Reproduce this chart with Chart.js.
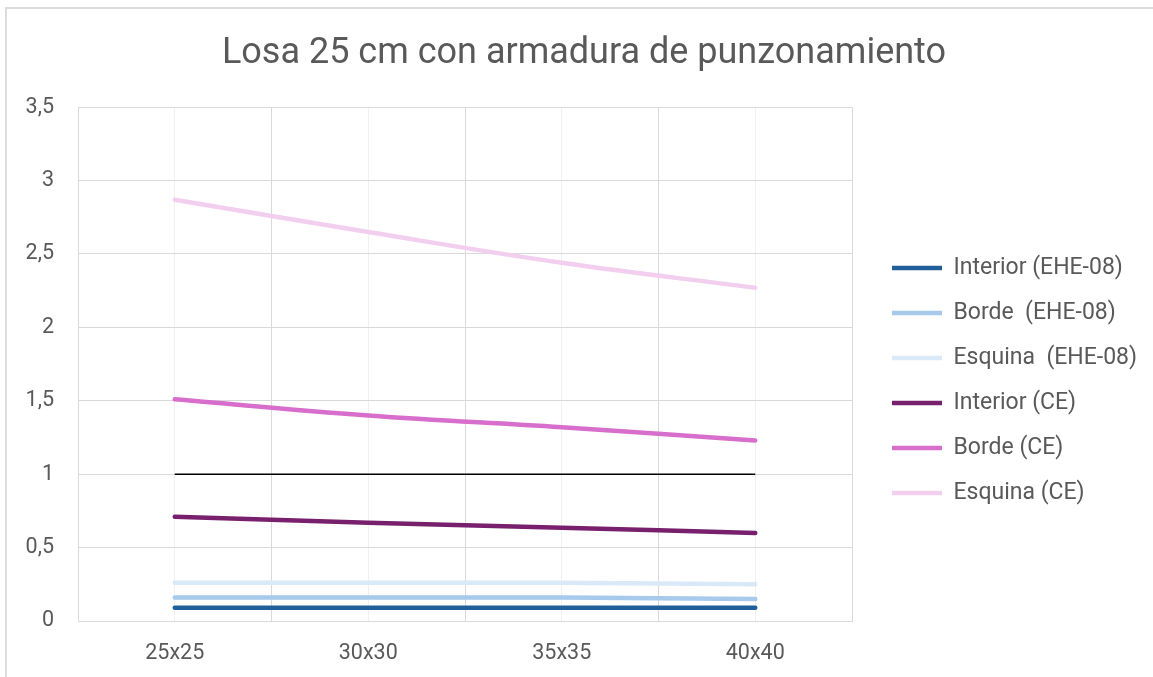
<!DOCTYPE html>
<html>
<head>
<meta charset="utf-8">
<script src="https://cdn.jsdelivr.net/npm/chart.js@4.4.1/dist/chart.umd.min.js"></script>
<style>
  body { margin: 0; background: #fff; }
  #marco { position: relative; width: 1153px; height: 677px; }
  #borde { position: absolute; left: 5px; top: 7px; right: 0; bottom: 0;
           border-left: 2px solid #dcdcdc; border-top: 2px solid #dcdcdc; pointer-events: none; }
</style>
</head>
<body>
<div id="marco">
  <canvas id="grafico" width="1153" height="677"></canvas>
  <div id="borde"></div>
</div>
<script>
// datos
const categorias = ["25x25", "30x30", "35x35", "40x40"];
const interiorEHE = [0.09, 0.09, 0.09, 0.09];
const bordeEHE = [0.16, 0.16, 0.16, 0.15];
const esquinaEHE = [0.26, 0.26, 0.26, 0.25];
const interiorCE = [0.71, 0.67, 0.635, 0.60];
const bordeCE = [1.51, 1.40, 1.32, 1.23];
const esquinaCE = [2.87, 2.65, 2.44, 2.27];
const limite = [1, 1, 1, 1];
const ticksY = [0, 0.5, 1, 1.5, 2, 2.5, 3, 3.5];

const gris = "#595959";
const rejilla = "#d9d9d9";
const fuente = "Roboto";
const tamLeyenda = 23;
const huecoLeyenda = 18;
const centroTitulo = 584;

const series = [
    { nombre: "Interior (EHE-08)", datos: interiorEHE, color: "#215f9a" },
    { nombre: "Borde  (EHE-08)", datos: bordeEHE, color: "#a6c9ec" },
    { nombre: "Esquina  (EHE-08)", datos: esquinaEHE, color: "#dae9f8" },
    { nombre: "Interior (CE)", datos: interiorCE, color: "#78206e" },
    { nombre: "Borde (CE)", datos: bordeCE, color: "#d86ecc" },
    { nombre: "Esquina (CE)", datos: esquinaCE, color: "#f2ceef" }
];

let datasets = series.map(function(s) {
    return {
        label: s.nombre,
        data: s.datos,
        borderColor: s.color,
        backgroundColor: s.color,
        borderWidth: 4.5,
        borderCapStyle: "round",
        pointRadius: 0,
        tension: 0.4,
        fill: false
    };
});
// linea de referencia en 1 (no sale en la leyenda)
datasets.push({
    label: "",
    data: limite,
    borderColor: "#000000",
    borderWidth: 1.5,
    pointRadius: 0,
    tension: 0,
    fill: false
});

// ancho de la leyenda para dejar el area del grafico en x=852
let medida = document.createElement("canvas").getContext("2d");
medida.font = tamLeyenda + "px " + fuente;
let maxTexto = 0;
series.forEach(function(s) {
    maxTexto = Math.max(maxTexto, medida.measureText(s.nombre).width);
});
let anchoLeyenda = 22 + 50 + tamLeyenda / 2 + maxTexto + 10;
let padDerecha = Math.max(0, 1153 - 852 - anchoLeyenda);

// separa la leyenda del area del grafico y centra el titulo como en el original
const ajustes = {
    id: "ajustes",
    afterLayout: function(chart) {
        chart.legend.left += huecoLeyenda;
        chart.legend.right += huecoLeyenda;
        let t = chart.titleBlock;
        let d = centroTitulo - (t.left + t.right) / 2;
        t.left += d;
        t.right += d;
    }
};

Chart.defaults.font.family = fuente;
Chart.defaults.color = gris;

let g = document.getElementById("grafico").getContext("2d");
let graficoChart = new Chart(g, {
    type: "line",
    data: { labels: categorias, datasets: datasets },
    plugins: [ajustes],
    options: {
        responsive: false,
        animation: false,
        layout: { padding: { left: 0, right: padDerecha, top: 0, bottom: 0 } },
        plugins: {
            title: {
                display: true,
                text: "Losa 25 cm con armadura de punzonamiento",
                color: gris,
                font: { size: 36, weight: "normal" },
                padding: { top: 32, bottom: 32 }
            },
            legend: {
                position: "right",
                fullSize: false,
                title: { display: true, text: "", font: { size: 27.5 }, padding: 0 },
                labels: {
                    usePointStyle: true,
                    pointStyle: "line",
                    pointStyleWidth: 50,
                    padding: 22,
                    color: gris,
                    font: { size: tamLeyenda },
                    filter: function(item) { return item.datasetIndex < series.length; }
                }
            },
            tooltip: { enabled: false }
        },
        scales: {
            x: {
                type: "category",
                offset: true,
                grid: { color: rejilla, drawTicks: false, offset: true },
                border: { color: rejilla },
                ticks: { padding: 20, font: { size: 21.5 }, color: gris },
                afterFit: function(s) { s.height = 56; }
            },
            xMenor: {
                type: "category",
                labels: categorias,
                position: "top",
                offset: true,
                grid: { color: "#f0f0f0", drawTicks: false, offset: false },
                border: { display: false },
                ticks: { display: false },
                afterFit: function(s) { s.height = 0; }
            },
            y: {
                min: 0,
                max: 3.5,
                afterBuildTicks: function(s) { s.ticks = ticksY.map(function(v) { return { value: v }; }); },
                grid: { color: rejilla, drawTicks: false },
                border: { color: rejilla },
                ticks: {
                    padding: 24,
                    font: { size: 21.5 },
                    color: gris,
                    callback: function(v) { return v.toString().replace(".", ","); }
                },
                afterFit: function(s) { s.width = 78; }
            }
        }
    }
});
</script>
</body>
</html>
